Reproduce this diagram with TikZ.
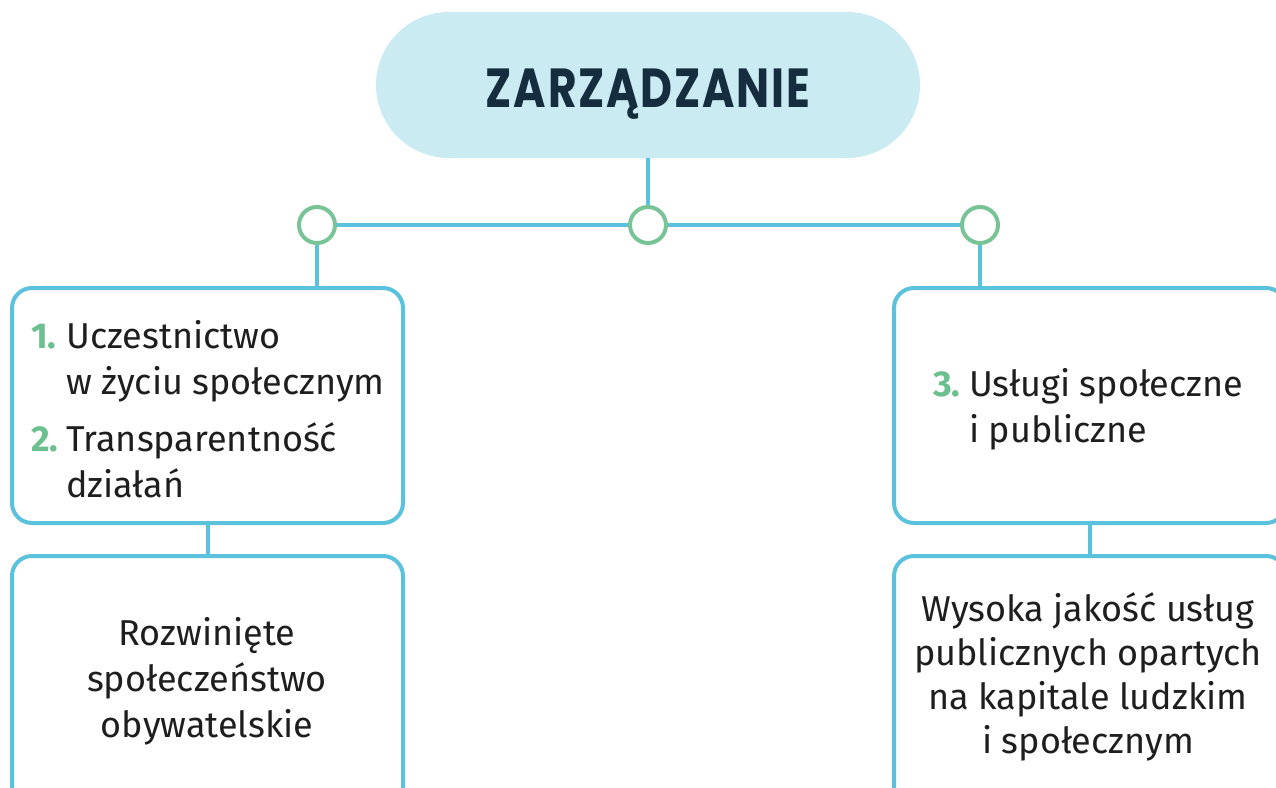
\documentclass[tikz,border=0pt]{standalone}
\usepackage{fontspec}
\setmainfont{Fira Sans}
\newfontfamily\titlefont{Poppins}[LetterSpace=4.0]

\definecolor{lineblue}{HTML}{5BC2DD}
\definecolor{pillfill}{HTML}{CBEBF2}
\definecolor{ringgreen}{HTML}{79C497}
\definecolor{numgreen}{HTML}{6CBF8E}
\definecolor{titlenavy}{HTML}{162C3F}
\definecolor{textdark}{HTML}{1E1E1E}

% green item number with a fixed-width slot so the text hangs
\newcommand{\itemnum}[2]{\makebox[#2][l]{\textcolor{numgreen}{\bfseries #1}}}

\begin{document}
\begin{tikzpicture}[x=1pt,y=-1pt,
  conn/.style={draw=lineblue,line width=4pt},
  pill/.style={fill=pillfill,draw=none,rounded corners=73pt,
    minimum width=544pt,minimum height=146pt,inner sep=0pt},
  ring/.style={circle,draw=ringgreen,fill=white,line width=4pt,
    minimum size=36pt,inner sep=0pt},
  card/.style={draw=lineblue,fill=white,line width=4pt,rounded corners=20pt,
    inner sep=0pt},
  txt/.style={inner sep=0pt,text=textdark,font=\fontsize{36}{46}\selectfont}
]
\useasboundingbox (0,0) rectangle (1276,787);
\clip (0,0) rectangle (1276,787);

% title
\node[pill] (title) at (648,85) {};
\node[inner sep=0pt,text=titlenavy,anchor=base] (titletext) at (648,107)
  {\titlefont\bfseries\fontsize{55}{55}\selectfont\scalebox{0.8}[1]{ZARZĄDZANIE}};

% branch rings
\node[ring] (c1) at (317,225) {};
\node[ring] (c2) at (648,225) {};
\node[ring] (c3) at (980,225) {};

% cards
\node[card,minimum width=391pt,minimum height=235pt] (b1) at (207.5,405.5) {};
\node[card,minimum width=391pt,minimum height=260pt] (b2) at (207.5,686) {};
\node[card,minimum width=392pt,minimum height=235pt] (b3) at (1090,405.5) {};
\node[card,minimum width=392pt,minimum height=260pt] (b4) at (1090,686) {};

% connectors
\draw[conn] (title.south) -- (c2.north);
\draw[conn] (c1.east) -- (c2.west);
\draw[conn] (c2.east) -- (c3.west);
\draw[conn] (c1.south) -- (c1.south |- b1.north);
\draw[conn] (c3.south) -- (c3.south |- b3.north);
\draw[conn] (b1.south) -- (b2.north);
\draw[conn] (b3.south) -- (b4.north);

% card texts (anchored at the baseline of their last line)
\node[txt,align=left,anchor=base west] (t1) at (31,497)
  {\itemnum{1.}{35pt}Uczestnictwo\\
   \hspace*{35pt}w życiu społecznym\\[11pt]
   \itemnum{2.}{35pt}Transparentność\\
   \hspace*{35pt}działań};
\node[txt,align=center,anchor=base] (t2) at (207,737)
  {Rozwinięte\\społeczeństwo\\obywatelskie};
\node[txt,align=left,anchor=base west] (t3) at (933,442)
  {\itemnum{3.}{36pt}Usługi społeczne\\
   \hspace*{36pt}i publiczne};
\node[txt,align=center,anchor=base,font=\fontsize{36}{44}\selectfont] (t4) at (1088,753)
  {Wysoka jakość usług\\publicznych opartych\\na kapitale ludzkim\\i społecznym};
\end{tikzpicture}
\end{document}
